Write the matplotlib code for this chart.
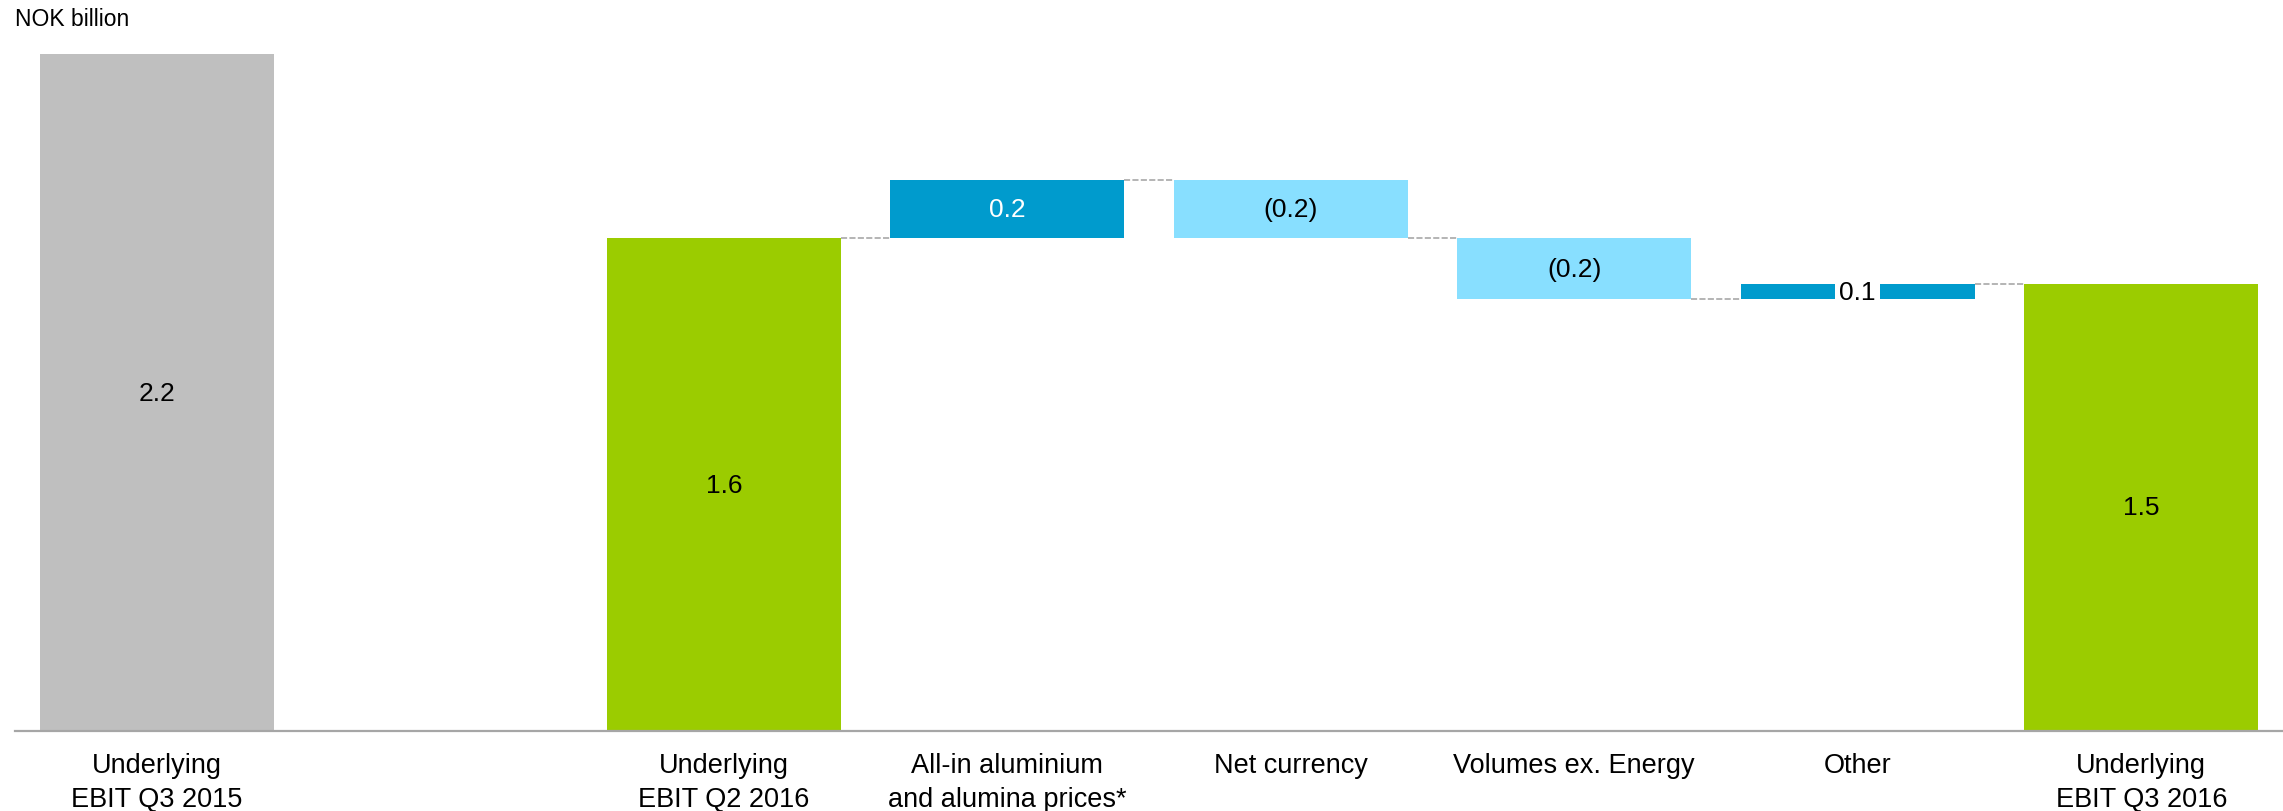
import numpy as np
import matplotlib.pyplot as plt

plt.rcParams['font.family'] = ['Liberation Sans', 'DejaVu Sans']

# EBIT bridge, NOK billion
categories = ['Underlying\nEBIT Q3 2015', 'Underlying\nEBIT Q2 2016',
              'All-in aluminium\nand alumina prices*', 'Net currency',
              'Volumes ex. Energy', 'Other', 'Underlying\nEBIT Q3 2016']
positions = [0, 2, 3, 4, 5, 6, 7]
ebit_q3_2015 = 2.21
ebit_q2_2016 = 1.61
deltas = [0.19, -0.19, -0.20, 0.05]

GREY = '#BFBFBF'
GREEN = '#9BCC00'
UP = '#009BCD'
DOWN = '#88DFFF'
W = 0.826


def fmt(v):
    s = f"{abs(v):.1f}"
    return f"({s})" if v < 0 else s


fig = plt.figure(figsize=(22.83, 8.12), dpi=100)
ax = fig.add_axes([15 / 2283, 80 / 812, 2268 / 2283, 692 / 812])

# totals
ebit_q3_2016 = ebit_q2_2016 + sum(deltas)
ax.bar(positions[0], ebit_q3_2015, width=W, color=GREY)
ax.bar(positions[1], ebit_q2_2016, width=W, color=GREEN)
ax.bar(positions[-1], ebit_q3_2016, width=W, color=GREEN)
for x, v in [(positions[0], ebit_q3_2015), (positions[1], ebit_q2_2016),
             (positions[-1], ebit_q3_2016)]:
    ax.text(x, v / 2, fmt(v), ha='center', va='center', fontsize=19)

# floating bars
levels = [ebit_q2_2016]
for x, d in zip(positions[2:-1], deltas):
    start = levels[-1]
    end = start + d
    ax.bar(x, d, bottom=start, width=W, color=UP if d > 0 else DOWN)
    mid = start + d / 2
    if abs(d) < 0.1:
        ax.text(x, mid, fmt(d), ha='center', va='center', fontsize=19,
                bbox=dict(facecolor='white', edgecolor='none', pad=3))
    else:
        ax.text(x, mid, fmt(d), ha='center', va='center', fontsize=19,
                color='white' if d > 0 else 'black')
    levels.append(end)

# dashed connectors between neighbouring bars
for i, lvl in enumerate(levels):
    x0 = positions[1 + i] + W / 2
    x1 = positions[2 + i] - W / 2
    ax.plot([x0, x1], [lvl, lvl], color='#A0A0A0', lw=1.1,
            linestyle=(0, (4, 1.5)))

ax.set_xlim(-0.5, 7.5)
ax.set_ylim(0, 692 / 306.2)
ax.set_xticks(positions, categories, fontsize=19.5, linespacing=1.42)
ax.tick_params(axis='x', length=0, pad=15)
ax.set_yticks([])
for s in ['top', 'left', 'right']:
    ax.spines[s].set_visible(False)
ax.spines['bottom'].set_color('#A6A6A6')
ax.spines['bottom'].set_linewidth(1.6)

fig.text(15 / 2283, 1 - 20 / 812, 'NOK billion', va='center', fontsize=16.5)

plt.savefig('out.png', dpi=100)
